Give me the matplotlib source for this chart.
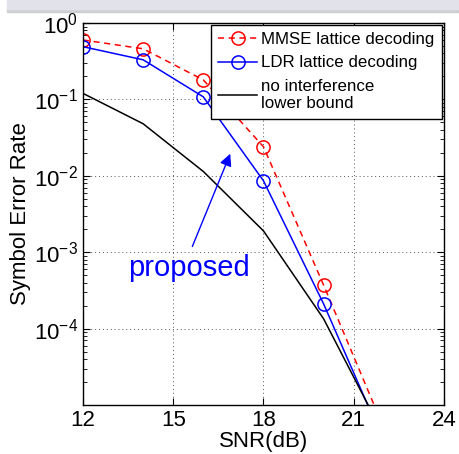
import numpy as np
import matplotlib
matplotlib.use('Agg')
import matplotlib.pyplot as plt
from matplotlib.patches import Rectangle
from matplotlib.ticker import LogLocator, NullFormatter

plt.rcParams['font.family'] = 'Liberation Sans'
plt.rcParams['mathtext.fontset'] = 'custom'
plt.rcParams['mathtext.rm'] = 'Liberation Sans'
plt.rcParams['mathtext.it'] = 'Liberation Sans:italic'

# data
snr = [12, 14, 16, 18, 20, 22]
ser_mmse = [0.60, 0.46, 0.18, 0.024, 3.7e-4, 5.0e-6]
ser_ldr = [0.49, 0.33, 0.108, 8.6e-3, 2.1e-4, 3.3e-6]
ser_bound = [0.12, 0.048, 0.0114, 1.9e-3, 1.34e-4, 4.0e-6]
xticks = [12, 15, 18, 21, 24]
yticks = [1e-4, 1e-3, 1e-2, 1e-1, 1e0]

fig = plt.figure(figsize=(4.59, 4.54), dpi=100)
ax = fig.add_axes([0.1808, 0.1079, 0.7865, 0.8414])

# slide banner at the top
fig.patches.append(Rectangle((0.015, 1 - 12 / 454), 0.985, 3 / 454, transform=fig.transFigure,
                             color='#b8b9c0', alpha=0.6, zorder=0))
fig.patches.append(Rectangle((0.015, 1 - 9 / 454), 0.985, 9 / 454, transform=fig.transFigure,
                             color='#e2e3ea', zorder=1))

ax.semilogy(snr, ser_mmse, 'r--o', mfc='none', ms=9.5, lw=1.1, mew=1.1, dashes=(4, 3),
            label='MMSE lattice decoding')
ax.semilogy(snr, ser_ldr, 'b-o', mfc='none', ms=9.5, lw=1.1, mew=1.1,
            label='LDR lattice decoding')
ax.semilogy(snr, ser_bound, 'k-', lw=1.1, label='no interference\nlower bound')

ax.set_xlim(12, 24)
ax.set_ylim(1e-5, 1)
ax.set_xticks(xticks)
ax.set_yticks(yticks)
ax.set_yticklabels([r'$10^{%d}$' % int(np.log10(v)) for v in yticks])
ax.yaxis.set_minor_locator(LogLocator(base=10, subs=np.arange(2, 10), numticks=20))
ax.yaxis.set_minor_formatter(NullFormatter())
ax.tick_params(which='both', direction='in', top=True, right=True, labelsize=16)
ax.tick_params(which='major', length=5, width=0.8)
ax.tick_params(which='minor', length=3, width=0.6)
ax.grid(True, which='major', ls=(0, (1, 3)), color='#555555', lw=0.7)
for s in ax.spines.values():
    s.set_linewidth(1.0)

ax.set_xlabel('SNR(dB)', fontsize=16, labelpad=0)
ax.set_ylabel('Symbol Error Rate', fontsize=16, labelpad=2)

leg = ax.legend(loc='upper right', fontsize=12.2, fancybox=False, framealpha=1,
                borderaxespad=0.1, handlelength=2.3, handletextpad=0.25,
                labelspacing=0.48, borderpad=0.45)
leg.get_frame().set_edgecolor('black')
leg.get_frame().set_linewidth(1.0)

ax.text(13.49, 4.9e-4, 'proposed', color='b', fontsize=21, ha='left', va='baseline')
ax.annotate('', xy=(16.93, 0.021), xytext=(15.6, 1.1e-3),
            arrowprops=dict(arrowstyle='-|>', color='b', lw=1.0, mutation_scale=18))

plt.savefig('out.png', dpi=100)
